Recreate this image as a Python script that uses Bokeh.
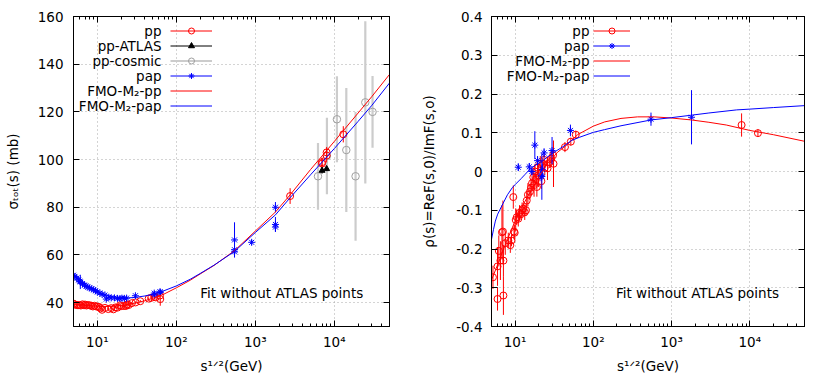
from bokeh.plotting import figure
from bokeh.layouts import row
from bokeh.models import (Range1d, LogAxis, LinearAxis, LogTicker, FixedTicker,
                          SingleIntervalTicker, Label, Legend, LegendItem,
                          CustomJSTickFormatter)
from bokeh.embed import file_html
from bokeh.resources import INLINE
from bokeh.core.properties import value

FONT = "DejaVu Sans"
FS = "13.5px"

# ---------------- left panel: total cross section ----------------
pp_sqrt_s = [5.0, 5.2, 5.5, 5.7, 6.0, 6.2, 6.5, 6.8, 7.0, 7.3,
             7.6, 8.0, 8.4, 8.8, 9.2, 9.7, 10.2, 10.7, 11.0, 11.5,
             12.5, 13.8, 15.0, 16.0, 17.0, 18.0, 19.4, 20.0, 21.7, 23.0,
             23.5, 24.0, 25.0, 27.4, 30.6, 35.0, 44.7, 48.0, 52.8, 55.0,
             62.3, 62.7, 2760, 7000, 7000, 8000, 8000, 13000]
pp_sigma = [39.6, 39.2, 39.0, 38.9, 39.0, 38.8, 39.3, 38.9, 39.2, 38.8,
            39.0, 38.9, 38.7, 38.4, 38.7, 38.4, 38.3, 38.1, 37.6, 37.0,
            37.8, 37.3, 37.7, 37.2, 38.0, 37.9, 38.9, 38.5, 38.6, 38.6,
            39.0, 39.3, 39.0, 39.8, 40.1, 40.6, 41.7, 42.0, 42.4, 42.2,
            43.0, 41.5, 84.7, 98.3, 98.9, 101.7, 103.0, 110.6]
pp_sigma_err = [0.6, 0.6, 0.5, 0.5, 0.5, 0.5, 0.5, 0.5, 0.5, 0.5,
                0.5, 0.4, 0.4, 0.4, 0.4, 0.4, 0.4, 0.4, 0.4, 0.4,
                0.4, 0.4, 0.4, 0.4, 0.4, 0.4, 0.4, 0.4, 0.4, 0.4,
                0.4, 0.4, 0.4, 0.4, 0.4, 0.5, 0.5, 0.5, 0.5, 0.5,
                0.6, 2.8, 3.3, 2.3, 2.0, 2.9, 2.3, 3.4]

atlas_sqrt_s = [7000, 8000]
atlas_sigma = [95.4, 96.1]
atlas_sigma_err = [1.3, 0.9]

cosmic_sqrt_s = [6220, 8070, 10800, 14200, 18600, 24700, 30500]
cosmic_sigma = [93.0, 101.5, 116.9, 104.0, 93.0, 124.0, 120.0]
cosmic_sigma_err = [14, 16, 18, 26, 27, 34, 15]

pap_sqrt_s = [5.0, 5.2, 5.5, 5.8, 6.0, 6.1, 6.5, 6.9, 7.2, 7.6,
              8.0, 8.5, 9.0, 9.5, 10.0, 10.8, 11.5, 12.5, 13.0, 14.0,
              15.0, 16.5, 18.0, 19.4, 20.5, 22.0, 23.5, 30.4, 52.6, 53.0,
              62.3, 62.7, 546, 546, 546, 900, 1800, 1800, 1800]
pap_sigma = [51.5, 51.0, 50.3, 49.5, 49.0, 48.7, 48.0, 47.3, 47.0, 46.5,
             46.2, 45.8, 45.4, 45.0, 44.5, 44.0, 43.5, 43.2, 41.5, 42.3,
             42.0, 42.0, 41.8, 41.7, 41.9, 41.8, 41.9, 42.9, 44.0, 43.2,
             44.6, 44.3, 66.3, 62.2, 61.3, 65.3, 80.0, 72.8, 71.7]
pap_sigma_err = [0.6, 0.6, 0.6, 0.6, 0.6, 3.0, 0.6, 0.6, 0.5, 0.5,
                 0.5, 0.5, 0.5, 0.5, 0.5, 0.5, 0.5, 0.5, 0.8, 0.4,
                 0.4, 0.4, 0.4, 0.4, 0.4, 0.4, 0.4, 0.6, 0.8, 0.8,
                 1.0, 1.0, 7.4, 1.5, 0.9, 1.0, 2.2, 3.1, 2.0]

fit_sqrt_s = [5, 6, 7, 8, 10, 12, 15, 20, 25, 30, 40, 50, 70, 100, 150, 200,
              300, 546, 1000, 1800, 2760, 5000, 7000, 10000, 20000, 30000, 50000]
fit_sigma_pp = [39.4, 39.1, 38.9, 38.7, 38.5, 38.4, 38.5, 38.8, 39.3, 39.8,
                40.8, 41.8, 43.6, 46.2, 49.4, 52.0, 55.6, 61.8, 70.0, 78.0,
                85.2, 95.8, 101.5, 107.6, 119.5, 126.5, 135.7]
fit_sigma_pap = [51.5, 49.2, 47.6, 46.4, 44.6, 43.5, 42.6, 42.0, 42.0, 42.2,
                 42.8, 43.5, 45.0, 47.0, 49.8, 52.2, 55.7, 61.5, 69.4, 76.8,
                 84.0, 93.6, 98.9, 104.6, 116.0, 122.8, 132.1]

# ---------------- right panel: rho parameter ----------------
pp_rho_sqrt_s = [5.22, 5.97, 5.97, 6.2, 6.5, 6.8, 7.0, 7.1, 7.1, 7.5,
                 8.2, 8.7, 9.0, 9.5, 9.7, 9.9, 10.2, 10.5, 11.0, 11.4,
                 11.9, 12.3, 12.7, 13.3, 13.8, 14.1, 14.6, 15.5, 16.0, 16.5,
                 17.1, 17.5, 18.0, 18.5, 19.0, 19.4, 20.0, 21.0, 21.7, 22.6,
                 23.5, 24.0, 26.0, 27.7, 29.0, 30.6, 31.0, 43.4, 51.6, 59.7,
                 7850, 12700]
pp_rho = [-0.273, -0.329, -0.245, -0.205, -0.23, -0.157, -0.155, -0.32, -0.23, -0.185,
          -0.178, -0.19, -0.178, -0.066, -0.155, -0.158, -0.125, -0.118, -0.122, -0.107,
          -0.11, -0.1, -0.096, -0.105, -0.1, -0.075, -0.06, -0.052, -0.042, -0.03,
          -0.015, -0.035, 0.0, -0.02, -0.04, 0.01, -0.01, 0.02, -0.025, 0.02,
          0.03, 0.01, 0.008, 0.024, 0.033, 0.042, 0.02, 0.063, 0.077, 0.095,
          0.12, 0.099]
pp_rho_err = [0.03, 0.03, 0.05, 0.04, 0.05, 0.07, 0.08, 0.05, 0.04, 0.03,
              0.02, 0.02, 0.015, 0.03, 0.02, 0.02, 0.03, 0.02, 0.02, 0.02,
              0.015, 0.02, 0.015, 0.02, 0.015, 0.02, 0.03, 0.02, 0.02, 0.02,
              0.02, 0.03, 0.02, 0.02, 0.025, 0.02, 0.03, 0.02, 0.02, 0.015,
              0.015, 0.02, 0.03, 0.015, 0.02, 0.01, 0.06, 0.013, 0.01, 0.01,
              0.03, 0.01]

pap_rho_sqrt_s = [11.0, 15.2, 16.4, 17.9, 19.4, 21.5, 22.0, 22.3, 23.5, 29.7, 51.0, 546, 1800]
pap_rho = [0.011, 0.012, 0.0, 0.068, 0.028, -0.01, -0.013, 0.005, 0.048, 0.054, 0.106, 0.135, 0.14]
pap_rho_err = [0.01, 0.01, 0.01, 0.036, 0.012, 0.015, 0.06, 0.015, 0.012, 0.035, 0.015, 0.017, 0.07]

fit_rho_pp_sqrt_s = [5, 6, 7, 8, 9, 10, 12, 14, 17, 20, 26, 35, 45, 63, 100, 140,
                     226, 368, 600, 1000, 1800, 3000, 5000, 10000, 20000, 50000]
fit_rho_pp = [-0.28, -0.24, -0.205, -0.175, -0.15, -0.128, -0.095, -0.07, -0.04, -0.015,
              0.02, 0.05, 0.067, 0.095, 0.117, 0.128, 0.137, 0.141, 0.141, 0.138,
              0.133, 0.127, 0.12, 0.106, 0.095, 0.078]
fit_rho_pap_sqrt_s = [5, 5.3, 5.6, 6, 7, 8, 9.2, 10, 12, 13.5, 15.5, 18, 22, 25, 30, 41,
                      52.6, 66, 100, 139, 226, 546, 1000, 1740, 3000, 6800, 10000, 20000, 50000]
fit_rho_pap = [-0.175, -0.15, -0.128, -0.11, -0.083, -0.06, -0.042, -0.034, -0.018, -0.007,
               0.006, 0.016, 0.026, 0.035, 0.047, 0.064, 0.08, 0.088, 0.101, 0.108,
               0.118, 0.133, 0.139, 0.145, 0.151, 0.159, 0.161, 0.165, 0.170]

X_TICK_JS = """
const sup = {0: '\u2070', 1: '\u00b9', 2: '\u00b2', 3: '\u00b3', 4: '\u2074', 5: '\u2075'};
const e = Math.round(Math.log10(tick));
return '10' + sup[e];
"""

FRAME_H = 310


def base_figure(width, border_left, border_right, y_range, yticker, yfmt,
                x_label, y_label, tick_standoff, label_standoff):
    p = figure(width=width, height=382, x_axis_type="log",
               x_range=Range1d(5, 5e4), y_range=y_range,
               output_backend="svg", toolbar_location=None,
               min_border_left=border_left, min_border_right=border_right,
               min_border_top=16, min_border_bottom=56,
               x_axis_label=x_label, y_axis_label=y_label)
    p.outline_line_color = "black"
    p.outline_line_width = 1
    p.background_fill_color = "white"
    p.border_fill_color = "white"

    xt = LogTicker(mantissas=[1], num_minor_ticks=10, desired_num_ticks=5)
    xa = p.xaxis[0]
    xa.ticker = xt
    xa.formatter = CustomJSTickFormatter(code=X_TICK_JS)
    ya = p.yaxis[0]
    ya.ticker = yticker
    ya.formatter = yfmt

    for ax in (xa, ya):
        ax.major_tick_in = 6
        ax.major_tick_out = 0
        ax.minor_tick_in = 3
        ax.minor_tick_out = 0
        ax.axis_line_color = "black"
        ax.major_tick_line_color = "black"
        ax.minor_tick_line_color = "black"
        ax.major_label_text_font = FONT
        ax.major_label_text_font_size = FS
        ax.major_label_text_color = "black"
        ax.axis_label_text_font = FONT
        ax.axis_label_text_font_size = FS
        ax.axis_label_text_font_style = "normal"
        ax.axis_label_text_color = "black"
    ya.minor_tick_line_color = None
    xa.major_label_standoff = 7
    xa.axis_label_standoff = 5
    ya.major_label_standoff = tick_standoff
    ya.axis_label_standoff = label_standoff

    top = LogAxis(ticker=xt, formatter=CustomJSTickFormatter(code="return '';"),
                  major_label_text_font_size="0px", major_label_standoff=0,
                  major_tick_in=6, major_tick_out=0, minor_tick_in=3, minor_tick_out=0,
                  axis_line_color="black")
    right = LinearAxis(ticker=yticker, formatter=CustomJSTickFormatter(code="return '';"),
                       major_label_text_font_size="0px", major_label_standoff=0,
                       major_tick_in=6, major_tick_out=0, minor_tick_line_color=None,
                       axis_line_color="black")
    p.add_layout(top, "above")
    p.add_layout(right, "right")

    for g in (p.xgrid[0], p.ygrid[0]):
        g.grid_line_color = "#a8a8a8"
        g.grid_line_dash = "1 3"
        g.grid_line_width = 1
    p.xgrid[0].ticker = xt
    p.ygrid[0].ticker = yticker
    return p


def errbars(p, xs, ys, es, **kw):
    return p.segment(x0=xs, y0=[y - e for y, e in zip(ys, es)],
                     x1=xs, y1=[y + e for y, e in zip(ys, es)], **kw)


def add_legend(p, entries, x_text, x_glyph, glyph_w, n_rows):
    items = []
    row_h = 15
    top_gap = 7
    for i, (text, renderers) in enumerate(entries):
        items.append(LegendItem(label=value(""), renderers=renderers))
        yc = FRAME_H - top_gap - row_h * i - row_h / 2
        p.add_layout(Label(x=x_text, y=yc, x_units="screen", y_units="screen",
                           text=text, text_align="right", text_baseline="middle",
                           text_font=FONT, text_font_size=FS, text_color="black"))
    lg = Legend(items=items, location=(x_glyph, FRAME_H - top_gap - row_h * n_rows),
                glyph_width=glyph_w, glyph_height=row_h, label_height=row_h,
                label_width=0, label_standoff=0, spacing=0, padding=0, margin=0,
                border_line_color=None, background_fill_alpha=0,
                label_text_font_size="8px")
    p.add_layout(lg)


RED = "#ff0000"
BLUE = "#0000ff"
GRAY_BAR = "#cccccc"
GRAY_PT = "#a0a0a0"

# ---------------- left figure ----------------
p1 = base_figure(418, 73, 29, Range1d(30, 160),
                 SingleIntervalTicker(interval=20, num_minor_ticks=0),
                 CustomJSTickFormatter(code="return tick.toFixed(0);"),
                 "s\u00b9\u141f\u00b2(GeV)", "\u03c3\u209c\u2092\u209c(s) (mb)", 10, 14)

cos_err = errbars(p1, cosmic_sqrt_s, cosmic_sigma, cosmic_sigma_err,
                  line_color=GRAY_BAR, line_width=2.2)
cos_pts = p1.scatter(cosmic_sqrt_s, cosmic_sigma, marker="circle", size=7.5,
                     fill_color=None, line_color=GRAY_PT, line_width=1)
pp_err = errbars(p1, pp_sqrt_s, pp_sigma, pp_sigma_err, line_color=RED, line_width=1)
pp_pts = p1.scatter(pp_sqrt_s, pp_sigma, marker="circle", size=7,
                    fill_color=None, line_color=RED, line_width=1)
atlas_err = errbars(p1, atlas_sqrt_s, atlas_sigma, atlas_sigma_err,
                    line_color="black", line_width=1)
atlas_pts = p1.scatter(atlas_sqrt_s, atlas_sigma, marker="triangle", size=6,
                       fill_color="black", line_color="black")
pap_err = errbars(p1, pap_sqrt_s, pap_sigma, pap_sigma_err, line_color=BLUE, line_width=1)
pap_pts = p1.scatter(pap_sqrt_s, pap_sigma, marker="asterisk", size=7,
                     line_color=BLUE, line_width=1)
fit_pp_l = p1.line(fit_sqrt_s, fit_sigma_pp, line_color=RED, line_width=1)
fit_pap_l = p1.line(fit_sqrt_s, fit_sigma_pap, line_color=BLUE, line_width=1)

add_legend(p1, [("pp", [pp_err, pp_pts]),
                ("pp-ATLAS", [atlas_err, atlas_pts]),
                ("pp-cosmic", [cos_err, cos_pts]),
                ("pap", [pap_err, pap_pts]),
                ("FMO-M\u2082-pp", [fit_pp_l]),
                ("FMO-M\u2082-pap", [fit_pap_l])],
           x_text=88, x_glyph=97, glyph_w=42, n_rows=6)

p1.add_layout(Label(x=201, y=43.9, text="Fit without ATLAS points",
                    text_align="left", text_baseline="middle",
                    text_font=FONT, text_font_size=FS, text_color="black"))

# ---------------- right figure ----------------
rho_ticks = [-0.4, -0.3, -0.2, -0.1, 0.0, 0.1, 0.2, 0.3, 0.4]
p2 = base_figure(404, 70, 18, Range1d(-0.4, 0.4),
                 FixedTicker(ticks=rho_ticks, minor_ticks=[]),
                 CustomJSTickFormatter(code="return Math.abs(tick) < 1e-9 ? '0' : tick.toFixed(1);"),
                 "s\u00b9\u141f\u00b2(GeV)", "\u03c1(s)=ReF(s,0)/ImF(s,o)", 9, 16)

rpp_err = errbars(p2, pp_rho_sqrt_s, pp_rho, pp_rho_err, line_color=RED, line_width=1)
rpp_pts = p2.scatter(pp_rho_sqrt_s, pp_rho, marker="circle", size=7,
                     fill_color=None, line_color=RED, line_width=1)
rpap_err = errbars(p2, pap_rho_sqrt_s, pap_rho, pap_rho_err, line_color=BLUE, line_width=1)
rpap_pts = p2.scatter(pap_rho_sqrt_s, pap_rho, marker="asterisk", size=7,
                      line_color=BLUE, line_width=1)
rfit_pp = p2.line(fit_rho_pp_sqrt_s, fit_rho_pp, line_color=RED, line_width=1)
rfit_pap = p2.line(fit_rho_pap_sqrt_s, fit_rho_pap, line_color=BLUE, line_width=1)

add_legend(p2, [("pp", [rpp_err, rpp_pts]),
                ("pap", [rpap_err, rpap_pts]),
                ("FMO-M\u2082-pp", [rfit_pp]),
                ("FMO-M\u2082-pap", [rfit_pap])],
           x_text=98, x_glyph=102, glyph_w=37, n_rows=4)

p2.add_layout(Label(x=195, y=-0.314, text="Fit without ATLAS points",
                    text_align="left", text_baseline="middle",
                    text_font=FONT, text_font_size=FS, text_color="black"))

layout = row(p1, p2)
with open("out.html", "w", encoding="utf-8") as f:
    f.write(file_html(layout, INLINE))
